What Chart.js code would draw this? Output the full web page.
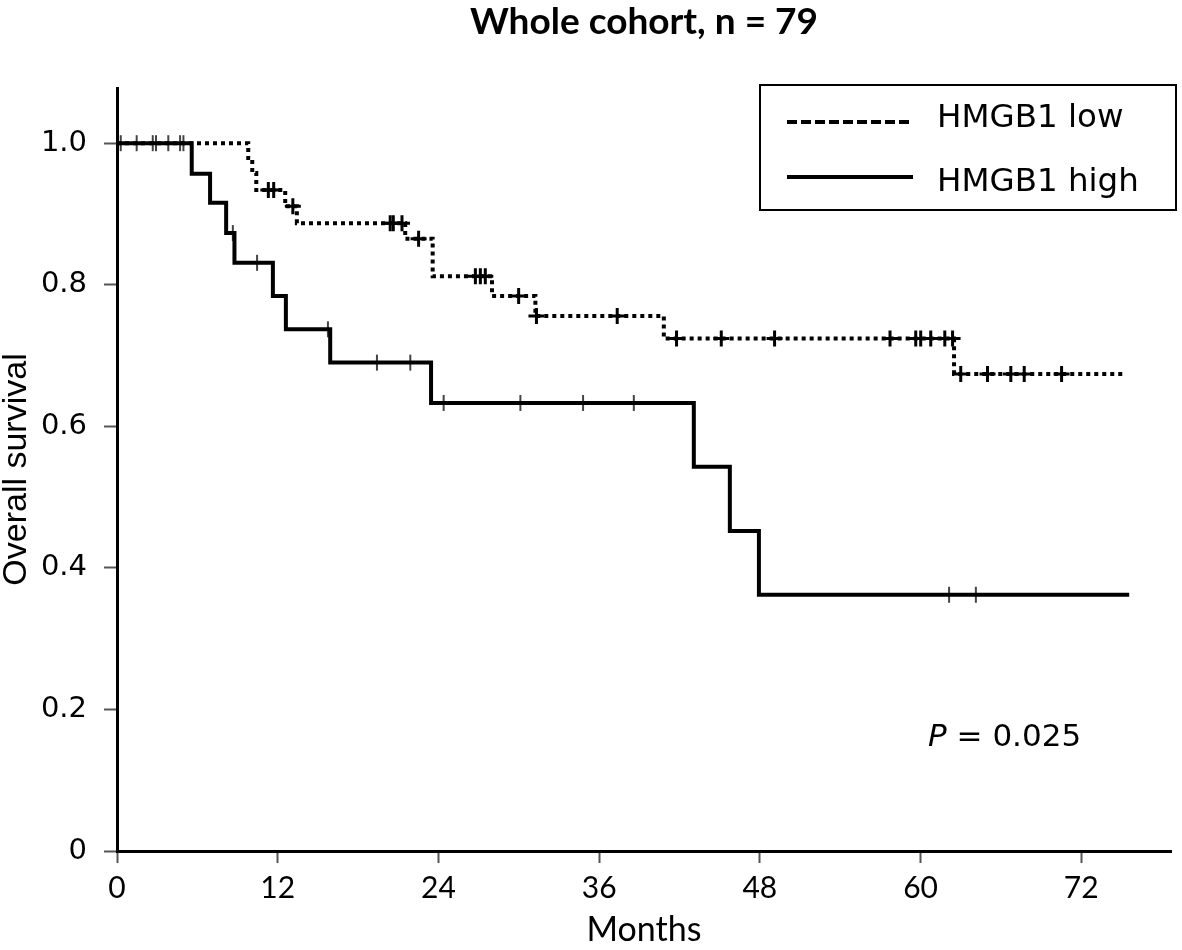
<!DOCTYPE html>
<html>
<head>
<meta charset="utf-8">
<script src="https://cdn.jsdelivr.net/npm/chart.js@4.4.1/dist/chart.umd.min.js"></script>
<style>
  html, body { margin: 0; padding: 0; background: #fff; }
  #wrap { width: 1182px; height: 950px; }
</style>
</head>
<body>
<div id="wrap"><canvas id="km"></canvas></div>
<script>
// Kaplan-Meier steps (months, survival after each drop)
const lowMonths   = [0, 9.8, 10.1, 10.4, 12.56, 13.43, 21.52, 23.57, 28.0, 31.24, 40.83, 62.5, 75.34];
const lowSurvival = [1.0, 0.979, 0.958, 0.934, 0.911, 0.887, 0.865, 0.812, 0.784, 0.756, 0.724, 0.674, 0.674];

const highMonths   = [0, 5.58, 6.95, 8.15, 8.77, 11.64, 12.61, 15.92, 23.45, 43.07, 45.76, 47.93, 75.58];
const highSurvival = [1.0, 0.957, 0.916, 0.873, 0.831, 0.784, 0.737, 0.690, 0.633, 0.543, 0.452, 0.362, 0.362];

// censored patients (tick marks)
const lowCensorMonths   = [11.3, 11.7, 13.13, 20.4, 20.63, 21.28, 22.52, 26.76, 27.13, 27.5, 29.99, 31.32, 37.35,
                           41.78, 45.12, 49.1, 57.72, 59.64, 60.01, 60.76, 61.81, 62.39, 63.0, 65.0, 66.74, 67.74, 70.53];
const lowCensorSurvival = [0.934, 0.934, 0.911, 0.887, 0.887, 0.887, 0.865, 0.812, 0.812, 0.812, 0.784, 0.756, 0.756,
                           0.724, 0.724, 0.724, 0.724, 0.724, 0.724, 0.724, 0.724, 0.724, 0.674, 0.674, 0.674, 0.674, 0.674];

const highCensorMonths   = [0.28, 1.47, 2.67, 2.91, 3.83, 4.71, 4.96, 8.65, 10.46, 15.75, 19.41, 21.9,
                            24.39, 30.12, 34.8, 38.59, 62.13, 64.13];
const highCensorSurvival = [1.0, 1.0, 1.0, 1.0, 1.0, 1.0, 1.0, 0.873, 0.831, 0.737, 0.690, 0.690,
                            0.633, 0.633, 0.633, 0.633, 0.362, 0.362];

const xTicks = [0, 12, 24, 36, 48, 60, 72];
const yTicks = [0, 0.2, 0.4, 0.6, 0.8, 1.0];
const seriesNames = ['HMGB1 low', 'HMGB1 high'];

function pts(xs, ys) { return xs.map((x, i) => ({ x: x, y: ys[i] })); }

// legend box + P value, drawn on top
const annotations = {
  id: 'annotations',
  afterDraw(chart) {
    const ctx = chart.ctx;
    ctx.save();
    // legend frame
    ctx.strokeStyle = '#000';
    ctx.lineWidth = 2;
    ctx.strokeRect(760, 85, 416, 125);
    ctx.lineWidth = 4;
    ctx.beginPath();
    ctx.setLineDash([10, 4]);
    ctx.moveTo(787, 122); ctx.lineTo(913, 122);
    ctx.stroke();
    ctx.setLineDash([]);
    ctx.beginPath();
    ctx.moveTo(787, 177); ctx.lineTo(913, 177);
    ctx.stroke();
    ctx.fillStyle = '#000';
    ctx.font = '32.5px "DejaVu Sans"';
    ctx.textBaseline = 'middle';
    ctx.textAlign = 'left';
    ctx.fillText(seriesNames[0], 937, 119);
    ctx.fillText(seriesNames[1], 937, 183);
    // P value
    ctx.font = 'italic 31px "DejaVu Sans"';
    ctx.fillText('P', 928, 738);
    const pw = ctx.measureText('P').width;
    ctx.font = '31px "DejaVu Sans"';
    ctx.fillText(' = 0.025', 928 + pw, 738);
    ctx.restore();
  }
};

new Chart(document.getElementById('km'), {
  type: 'line',
  data: {
    datasets: [
      {
        label: seriesNames[0],
        data: pts(lowMonths, lowSurvival),
        stepped: 'before',
        borderColor: '#000',
        borderWidth: 4,
        borderDash: [4, 4],
        pointRadius: 0,
        fill: false
      },
      {
        label: seriesNames[1],
        data: pts(highMonths, highSurvival),
        stepped: 'before',
        borderColor: '#000',
        borderWidth: 4,
        pointRadius: 0,
        fill: false
      },
      {
        label: 'low censored',
        data: pts(lowCensorMonths, lowCensorSurvival),
        showLine: false,
        pointStyle: 'cross',
        pointRadius: 8,
        pointBorderWidth: 3,
        pointBorderColor: '#000'
      },
      {
        label: 'high censored',
        data: pts(highCensorMonths, highCensorSurvival),
        showLine: false,
        pointStyle: 'line',
        rotation: 90,
        pointRadius: 8,
        pointBorderWidth: 2,
        pointBorderColor: '#444'
      }
    ]
  },
  options: {
    responsive: true,
    maintainAspectRatio: false,
    animation: false,
    devicePixelRatio: 1,
    layout: { padding: { left: 0, right: 3, top: 0, bottom: 0 } },
    plugins: {
      legend: { display: false },
      tooltip: { enabled: false },
      title: {
        display: true,
        fullSize: false,
        text: 'Whole cohort, n = 79',
        color: '#000',
        font: { family: 'Lato', size: 37, weight: 'bold', lineHeight: 1.2 },
        padding: { top: 0, bottom: 43.6 }
      }
    },
    scales: {
      x: {
        type: 'linear',
        min: 0,
        max: 78.7,
        afterFit: s => { s.height = 99; },
        afterBuildTicks: s => { s.ticks = xTicks.map(v => ({ value: v })); },
        ticks: { color: '#000', font: { family: 'Lato', size: 30 }, padding: 7, maxRotation: 0 },
        grid: { drawOnChartArea: false, drawTicks: true, tickLength: 12, tickColor: '#555', tickWidth: 2 },
        border: { display: true, color: '#000', width: 3 },
        title: {
          display: true, text: 'Months', color: '#000',
          font: { family: 'Lato', size: 34, lineHeight: 1.2 }, padding: 0
        }
      },
      y: {
        type: 'linear',
        min: 0,
        max: 1.078,
        afterFit: s => { s.width = 117; },
        afterBuildTicks: s => { s.ticks = yTicks.map(v => ({ value: v })); },
        ticks: {
          color: '#000', font: { family: 'DejaVu Sans', size: 29 }, padding: 17,
          callback: v => v === 0 ? '0' : v.toFixed(1)
        },
        grid: { drawOnChartArea: false, drawTicks: true, tickLength: 13, tickColor: '#555', tickWidth: 2 },
        border: { display: true, color: '#000', width: 3 },
        title: {
          display: true, text: 'Overall survival', color: '#000',
          font: { family: 'Liberation Sans', size: 34, lineHeight: 1.0 }, padding: 0
        }
      }
    }
  },
  plugins: [annotations]
});
</script>
</body>
</html>
